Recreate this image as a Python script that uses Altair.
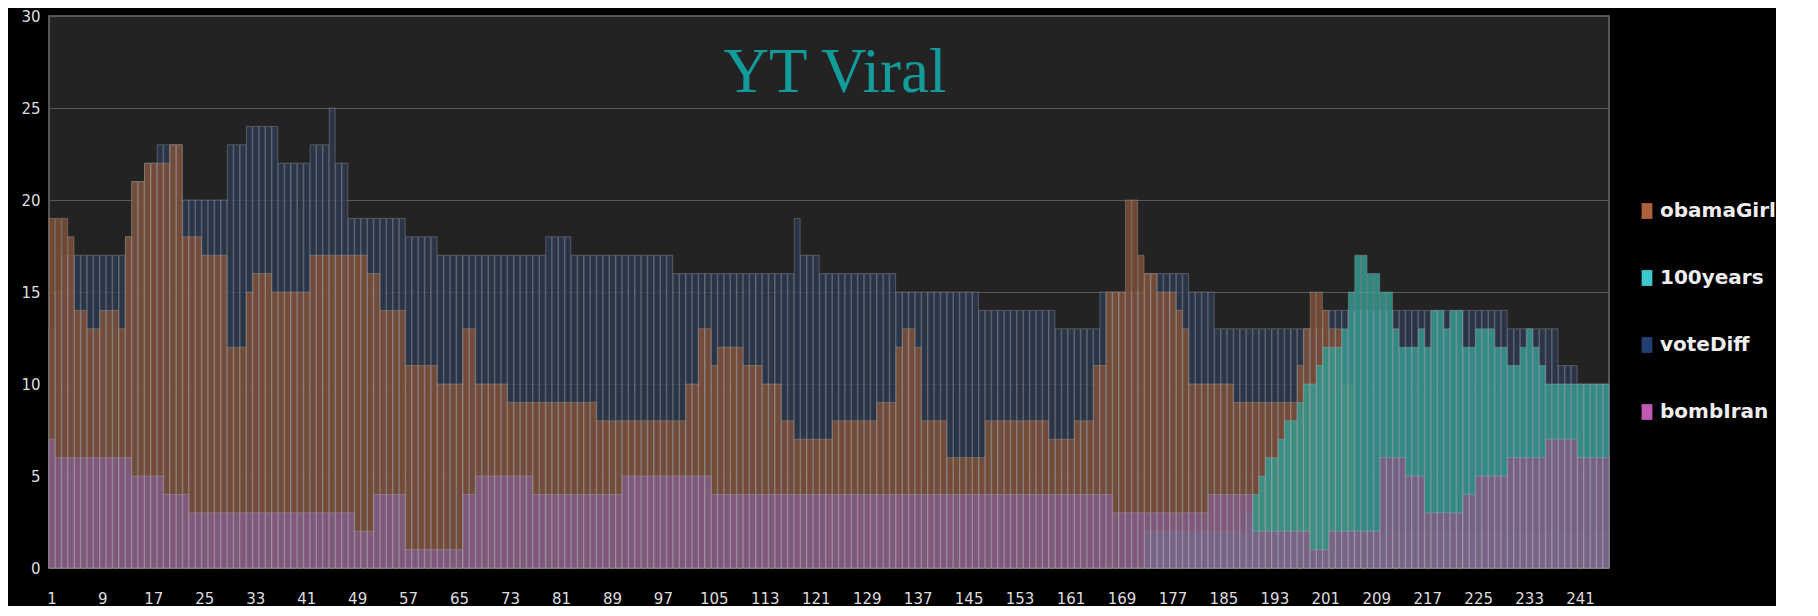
import altair as alt
import pandas as pd

# bar index (one bar per sample)
bar_index = list(range(1, 246))

series_names = ["obamaGirl", "100years", "voteDiff", "bombIran"]
legend_colors = ["#b0603a", "#3cc8d0", "#1f4070", "#c05ab4"]
bar_colors = ["#7e5036", "#33998f", "#2c384f", "#825b86"]
# drawing order: voteDiff at the back, bombIran in front
draw_rank = {"voteDiff": 0, "obamaGirl": 1, "100years": 2, "bombIran": 3}

obamaGirl = [
    19, 19, 19, 18, 14, 14, 13, 13, 14, 14,
    14, 13, 18, 21, 21, 22, 22, 22, 22, 23,
    23, 18, 18, 18, 17, 17, 17, 17, 12, 12,
    12, 15, 16, 16, 16, 15, 15, 15, 15, 15,
    15, 17, 17, 17, 17, 17, 17, 17, 17, 17,
    16, 16, 14, 14, 14, 14, 11, 11, 11, 11,
    11, 10, 10, 10, 10, 13, 13, 10, 10, 10,
    10, 10, 9, 9, 9, 9, 9, 9, 9, 9,
    9, 9, 9, 9, 9, 9, 8, 8, 8, 8,
    8, 8, 8, 8, 8, 8, 8, 8, 8, 8,
    10, 10, 13, 13, 11, 12, 12, 12, 12, 11,
    11, 11, 10, 10, 10, 8, 8, 7, 7, 7,
    7, 7, 7, 8, 8, 8, 8, 8, 8, 8,
    9, 9, 9, 12, 13, 13, 12, 8, 8, 8,
    8, 6, 6, 6, 6, 6, 6, 8, 8, 8,
    8, 8, 8, 8, 8, 8, 8, 7, 7, 7,
    7, 8, 8, 8, 11, 11, 15, 15, 15, 20,
    20, 17, 16, 16, 15, 15, 15, 14, 13, 10,
    10, 10, 10, 10, 10, 10, 9, 9, 9, 9,
    9, 9, 9, 9, 9, 9, 11, 13, 15, 15,
    14, 13, 13, 10, 10, 2, 2, 2, 2, 2,
    2, 2, 2, 2, 2, 2, 2, 2, 2, 2,
    2, 2, 2, 2, 2, 2, 2, 2, 2, 2,
    2, 2, 2, 2, 2, 2, 2, 2, 2, 2,
    2, 2, 2, 2, 2,
]

years100 = [
    0, 0, 0, 0, 0, 0, 0, 0, 0, 0,
    0, 0, 0, 0, 0, 0, 0, 0, 0, 0,
    0, 0, 0, 0, 0, 0, 0, 0, 0, 0,
    0, 0, 0, 0, 0, 0, 0, 0, 0, 0,
    0, 0, 0, 0, 0, 0, 0, 0, 0, 0,
    0, 0, 0, 0, 0, 0, 0, 0, 0, 0,
    0, 0, 0, 0, 0, 0, 0, 0, 0, 0,
    0, 0, 0, 0, 0, 0, 0, 0, 0, 0,
    0, 0, 0, 0, 0, 0, 0, 0, 0, 0,
    0, 0, 0, 0, 0, 0, 0, 0, 0, 0,
    0, 0, 0, 0, 0, 0, 0, 0, 0, 0,
    0, 0, 0, 0, 0, 0, 0, 0, 0, 0,
    0, 0, 0, 0, 0, 0, 0, 0, 0, 0,
    0, 0, 0, 0, 0, 0, 0, 0, 0, 0,
    0, 0, 0, 0, 0, 0, 0, 0, 0, 0,
    0, 0, 0, 0, 0, 0, 0, 0, 0, 0,
    0, 0, 0, 0, 0, 0, 0, 0, 0, 0,
    0, 0, 2, 2, 2, 2, 2, 2, 2, 2,
    2, 2, 2, 2, 2, 2, 2, 2, 3, 4,
    5, 6, 6, 7, 8, 8, 9, 10, 10, 11,
    12, 12, 12, 13, 15, 17, 17, 16, 16, 15,
    15, 13, 12, 12, 12, 13, 12, 14, 14, 13,
    14, 14, 12, 12, 13, 13, 13, 12, 12, 11,
    11, 12, 13, 12, 11, 10, 10, 10, 10, 10,
    10, 10, 10, 10, 10,
]

voteDiff = [
    13, 15, 17, 17, 17, 17, 17, 17, 17, 17,
    17, 17, 18, 21, 21, 22, 22, 23, 23, 23,
    23, 20, 20, 20, 20, 20, 20, 20, 23, 23,
    23, 24, 24, 24, 24, 24, 22, 22, 22, 22,
    22, 23, 23, 23, 25, 22, 22, 19, 19, 19,
    19, 19, 19, 19, 19, 19, 18, 18, 18, 18,
    18, 17, 17, 17, 17, 17, 17, 17, 17, 17,
    17, 17, 17, 17, 17, 17, 17, 17, 18, 18,
    18, 18, 17, 17, 17, 17, 17, 17, 17, 17,
    17, 17, 17, 17, 17, 17, 17, 17, 16, 16,
    16, 16, 16, 16, 16, 16, 16, 16, 16, 16,
    16, 16, 16, 16, 16, 16, 16, 19, 17, 17,
    17, 16, 16, 16, 16, 16, 16, 16, 16, 16,
    16, 16, 16, 15, 15, 15, 15, 15, 15, 15,
    15, 15, 15, 15, 15, 15, 14, 14, 14, 14,
    14, 14, 14, 14, 14, 14, 14, 14, 13, 13,
    13, 13, 13, 13, 13, 15, 15, 15, 15, 15,
    15, 15, 16, 16, 16, 16, 16, 16, 16, 15,
    15, 15, 15, 13, 13, 13, 13, 13, 13, 13,
    13, 13, 13, 13, 13, 13, 13, 13, 13, 13,
    14, 14, 14, 14, 14, 14, 14, 14, 14, 14,
    14, 14, 14, 14, 14, 14, 14, 14, 14, 14,
    14, 14, 14, 14, 14, 14, 14, 14, 14, 13,
    13, 13, 13, 13, 13, 13, 13, 11, 11, 11,
    10, 10, 10, 10, 10,
]

bombIran = [
    7, 6, 6, 6, 6, 6, 6, 6, 6, 6,
    6, 6, 6, 5, 5, 5, 5, 5, 4, 4,
    4, 4, 3, 3, 3, 3, 3, 3, 3, 3,
    3, 3, 3, 3, 3, 3, 3, 3, 3, 3,
    3, 3, 3, 3, 3, 3, 3, 3, 2, 2,
    2, 4, 4, 4, 4, 4, 1, 1, 1, 1,
    1, 1, 1, 1, 1, 4, 4, 5, 5, 5,
    5, 5, 5, 5, 5, 5, 4, 4, 4, 4,
    4, 4, 4, 4, 4, 4, 4, 4, 4, 4,
    5, 5, 5, 5, 5, 5, 5, 5, 5, 5,
    5, 5, 5, 5, 4, 4, 4, 4, 4, 4,
    4, 4, 4, 4, 4, 4, 4, 4, 4, 4,
    4, 4, 4, 4, 4, 4, 4, 4, 4, 4,
    4, 4, 4, 4, 4, 4, 4, 4, 4, 4,
    4, 4, 4, 4, 4, 4, 4, 4, 4, 4,
    4, 4, 4, 4, 4, 4, 4, 4, 4, 4,
    4, 4, 4, 4, 4, 4, 4, 3, 3, 3,
    3, 3, 3, 3, 3, 3, 3, 3, 3, 3,
    3, 3, 4, 4, 4, 4, 4, 4, 4, 2,
    2, 2, 2, 2, 2, 2, 2, 2, 1, 1,
    1, 2, 2, 2, 2, 2, 2, 2, 2, 6,
    6, 6, 6, 5, 5, 5, 3, 3, 3, 3,
    3, 3, 4, 4, 5, 5, 5, 5, 5, 6,
    6, 6, 6, 6, 6, 7, 7, 7, 7, 7,
    6, 6, 6, 6, 6,
]

x_tick_labels = [1, 9, 17, 25, 33, 41, 49, 57, 65, 73, 81, 89, 97, 105, 113,
                 121, 129, 137, 145, 153, 161, 169, 177, 185, 193, 201, 209,
                 217, 225, 233, 241]
y_tick_labels = [0, 5, 10, 15, 20, 25, 30]
chart_title = "YT Viral"

rows = []
for name, vals in zip(series_names, [obamaGirl, years100, voteDiff, bombIran]):
    for i, v in zip(bar_index, vals):
        if v > 0:
            rows.append({"i": i, "series": name, "value": v,
                         "rank": draw_rank[name]})
df = pd.DataFrame(rows)

bars = alt.Chart(df).mark_bar(
    opacity=0.86, stroke="#b4b4bc", strokeOpacity=0.45, strokeWidth=0.9
).encode(
    x=alt.X("i:O", scale=alt.Scale(paddingInner=0.08, paddingOuter=0),
            axis=alt.Axis(values=x_tick_labels, labelAngle=0, title=None,
                          ticks=False, domain=False, grid=False,
                          labelPadding=23, labelFontSize=15,
                          labelColor="#dddddd", labelFont="DejaVu Sans")),
    y=alt.Y("value:Q", stack=None,
            scale=alt.Scale(domain=[0, 30], nice=False),
            axis=alt.Axis(values=y_tick_labels, title=None, ticks=False,
                          domain=False, labelPadding=9, minExtent=36,
                          labelFontSize=15, labelColor="#dddddd",
                          labelFont="DejaVu Sans", grid=True,
                          gridColor="#5a5a5a", gridWidth=1.2)),
    color=alt.Color("series:N",
                    scale=alt.Scale(domain=series_names, range=bar_colors),
                    legend=None),
    order=alt.Order("rank:Q", sort="ascending"),
)

legend_df = pd.DataFrame({"name": series_names})
legend_layer = alt.Chart(legend_df).transform_filter(
    "datum.name == 'none'"
).mark_square(filled=True, opacity=1).encode(
    x=alt.value(0), y=alt.value(0),
    color=alt.Color("name:N",
                    scale=alt.Scale(domain=series_names, range=legend_colors),
                    legend=alt.Legend(title=None, orient="none",
                                      legendX=1588, legendY=185,
                                      symbolType="M-0.68,-1H0.68V1H-0.68Z",
                                      symbolSize=250, symbolOpacity=1,
                                      symbolStrokeWidth=0,
                                      labelFont="DejaVu Sans",
                                      labelFontWeight="bold",
                                      labelFontSize=20,
                                      labelColor="#eeeeee",
                                      labelOffset=3,
                                      rowPadding=47, padding=0)),
)

title_df = pd.DataFrame({"label": [chart_title]})
title = alt.Chart(title_df).mark_text(
    font="Liberation Serif", fontSize=63, color="#139a9a",
    align="center", baseline="alphabetic"
).encode(text="label:N", x=alt.value(786), y=alt.value(76))

chart = alt.layer(bars, legend_layer, title).resolve_scale(
    color="independent"
).properties(
    width=1560, height=552,
    padding={"left": 5, "top": 1, "right": 0, "bottom": 0},
    background="#000000",
).configure_view(fill="#232323", stroke="#6e6e6e", strokeWidth=1.5)

chart.save("out.html", embed_options={"renderer": "svg", "actions": False})
